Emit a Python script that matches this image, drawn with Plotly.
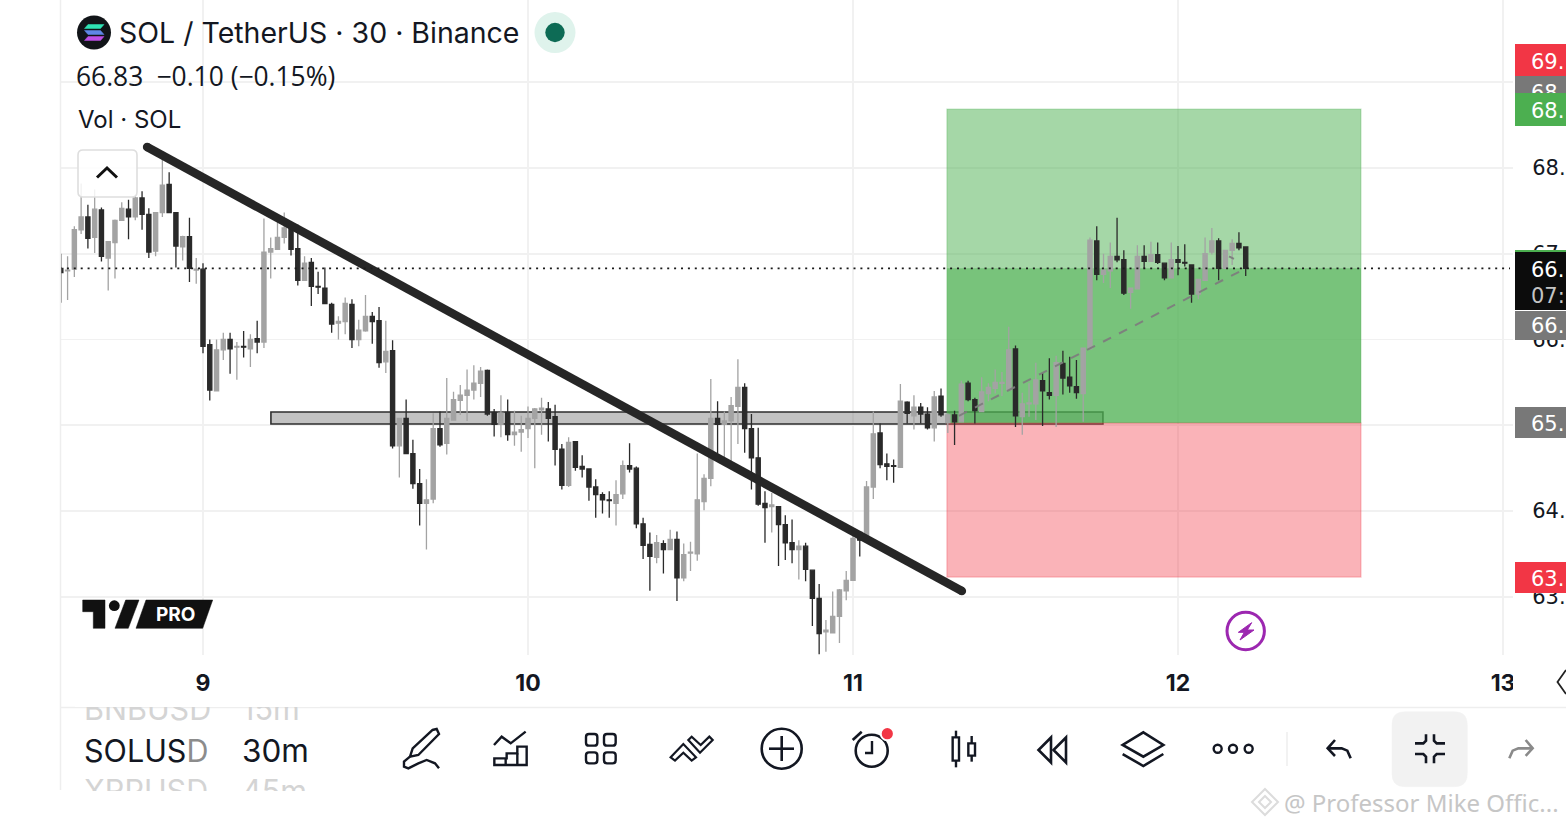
import plotly.graph_objects as go

W, H = 1566, 828

# ---------- data ----------
bar_offsets = list(range(-21, 155))      # 30-minute bars counted from the start of day 9
bars_per_day = 48
opens = [
    66.83,66.80,66.82,67.28,67.43,67.19,67.51,66.95,67.13,67.39,
    67.52,67.43,67.65,67.46,67.03,67.48,67.81,67.48,67.08,67.20,
    66.81,66.82,65.94,65.40,65.88,66.00,65.91,65.92,65.89,66.01,
    65.97,67.02,67.05,67.19,67.30,67.06,66.69,66.90,66.62,66.60,
    66.41,66.19,66.21,66.41,66.00,66.10,66.27,66.22,65.74,65.87,
    64.76,65.08,64.67,64.32,64.09,64.14,64.96,64.79,65.06,65.29,
    65.35,65.41,65.49,65.64,65.15,65.01,65.15,64.89,64.92,64.96,
    65.08,65.18,65.19,65.10,64.72,64.30,64.81,64.52,64.49,64.28,
    64.19,64.13,64.09,64.20,64.53,64.50,63.85,63.61,63.46,63.62,
    63.55,63.67,63.22,63.51,63.50,64.11,64.38,65.08,65.01,65.05,
    65.22,65.44,64.96,64.62,64.09,64.05,64.05,63.84,63.63,63.55,
    63.59,63.31,62.98,62.59,62.58,62.77,63.07,63.19,63.75,63.66,
    64.28,64.91,64.55,64.53,64.51,65.27,65.11,65.21,65.13,64.97,
    65.34,65.03,65.12,65.04,65.49,65.30,65.16,65.37,65.43,65.49,
    65.41,65.89,65.10,65.25,65.25,65.52,65.38,65.35,65.72,65.56,
    65.45,65.37,65.89,67.15,66.76,66.80,66.97,66.93,66.55,66.59,
    66.97,66.91,66.99,66.89,66.72,66.93,66.90,66.87,66.53,66.69,
    67.02,67.15,66.83,67.04,67.12,67.08]
highs = [
    67.00,66.97,67.32,67.82,67.57,67.75,67.54,67.15,67.40,67.60,
    67.63,67.68,67.73,67.53,67.48,68.18,67.95,67.48,67.21,67.42,
    66.95,66.89,66.00,66.00,66.08,66.08,65.97,66.10,66.06,66.22,
    67.41,67.19,67.40,67.48,67.35,67.34,66.97,66.95,66.79,66.84,
    66.43,66.27,66.49,66.47,66.23,66.52,66.32,66.38,66.22,65.99,
    65.08,65.30,64.83,64.49,64.37,65.14,65.16,65.55,65.39,65.47,
    65.65,65.70,65.68,65.65,65.19,65.35,65.30,65.17,65.11,65.22,
    65.20,65.32,65.27,65.24,64.78,64.86,64.81,64.65,64.50,64.37,
    64.22,64.23,64.36,64.59,64.79,64.52,63.92,63.75,63.72,63.66,
    63.78,63.76,63.62,63.64,64.67,64.43,65.54,65.28,65.16,65.33,
    65.77,65.49,65.13,64.97,64.23,64.21,64.05,63.95,63.90,63.66,
    63.63,63.31,63.15,62.73,63.06,63.09,63.30,63.72,63.76,64.35,
    65.16,65.02,64.67,64.60,65.48,65.28,65.35,65.26,65.21,65.40,
    65.43,65.14,65.17,65.52,65.52,65.32,65.56,65.49,65.65,65.62,
    66.15,65.93,65.38,65.49,65.73,65.61,65.78,65.81,65.87,65.80,
    65.76,65.90,67.19,67.32,67.00,67.13,67.42,67.04,66.60,67.10,
    67.10,67.14,67.13,66.89,67.13,67.09,67.11,66.87,66.70,67.19,
    67.30,67.18,67.04,67.17,67.25,67.08]
lows = [
    66.43,66.46,66.73,67.23,67.06,67.01,66.91,66.57,66.71,67.39,
    67.17,67.39,67.28,66.95,66.97,67.43,67.48,66.84,66.92,66.67,
    66.65,65.84,65.29,65.40,65.76,65.60,65.53,65.79,65.68,65.84,
    65.90,66.71,67.05,67.12,66.98,66.63,66.69,66.39,66.53,66.42,
    66.08,66.00,66.06,65.90,65.92,66.09,65.95,65.67,65.61,64.73,
    64.39,64.67,64.26,63.83,63.55,64.09,64.75,64.66,65.06,65.12,
    65.05,65.30,65.33,65.11,64.87,64.86,64.82,64.76,64.69,64.85,
    64.50,64.89,64.81,64.53,64.25,64.28,64.47,64.39,64.12,63.92,
    63.97,63.92,63.83,64.14,64.45,63.80,63.44,63.07,63.39,63.27,
    63.55,62.95,63.18,63.30,63.42,64.01,64.29,64.67,64.60,64.56,
    64.78,64.68,64.25,64.06,63.63,63.75,63.36,63.43,63.39,63.20,
    63.18,62.66,62.33,62.36,62.57,62.46,62.96,63.19,63.47,63.66,
    64.14,64.50,64.36,64.33,64.51,65.02,64.95,65.02,64.95,64.81,
    65.10,64.91,64.77,65.04,65.28,65.02,65.16,65.28,65.37,65.34,
    65.40,64.98,64.89,65.10,65.06,64.99,65.30,64.98,65.36,65.38,
    65.31,65.04,65.89,66.69,66.66,66.60,66.90,66.52,66.36,66.59,
    66.83,66.91,66.88,66.69,66.72,66.75,66.85,66.43,66.47,66.69,
    66.99,66.69,66.83,66.87,67.04,66.74]
closes = [
    66.78,66.81,67.28,67.43,67.18,67.52,66.97,67.14,67.39,67.53,
    67.43,67.65,67.46,67.02,67.48,67.80,67.48,67.09,67.20,66.83,
    66.82,65.92,65.41,65.88,66.00,65.89,65.92,65.91,66.00,65.97,
    67.02,67.06,67.19,67.30,67.05,66.69,66.89,66.62,66.61,66.42,
    66.18,66.21,66.42,66.00,66.11,66.27,66.21,65.73,65.86,64.76,
    65.08,64.67,64.32,64.09,64.13,64.96,64.77,65.08,65.30,65.35,
    65.41,65.49,65.63,65.13,65.01,65.14,64.89,64.92,64.95,65.08,
    65.19,65.20,65.08,64.72,64.30,64.80,64.51,64.49,64.28,64.19,
    64.13,64.12,64.19,64.53,64.49,63.85,63.60,63.47,63.63,63.55,
    63.67,63.22,63.49,63.52,64.13,64.38,65.08,65.01,65.05,65.23,
    65.44,64.96,64.62,64.08,64.04,64.07,63.84,63.63,63.55,63.59,
    63.32,62.98,62.57,62.61,62.77,63.08,63.19,63.68,63.66,64.28,
    64.90,64.54,64.52,64.52,65.28,65.14,65.21,65.13,64.97,65.33,
    65.12,65.12,65.04,65.48,65.30,65.17,65.39,65.44,65.50,65.50,
    65.88,65.11,65.25,65.26,65.53,65.40,65.35,65.73,65.55,65.46,
    65.38,65.90,67.16,66.76,66.81,66.97,66.93,66.54,66.60,66.97,
    66.91,66.99,66.90,66.72,66.93,66.90,66.89,66.53,66.70,67.00,
    67.15,66.83,67.04,67.12,67.07,66.83]

day_ticks = [9, 10, 11, 12, 13]
day_labels = ["9", "10", "11", "12", "13"]
price_ticks = [63, 64, 65, 66, 67, 68, 69]
price_labels = ["63.", "64.", "65.", "66.", "67", "68.", "69."]

last_price = 66.83
trend_days = [8.828, 11.335]
trend_prices = [68.245, 63.067]
zone_days = [9.209, 11.769]
zone_prices = [65.015, 65.155]
position_days = [11.289, 12.563]
target_price, entry_price, stop_price = 68.688, 65.026, 63.23
projection_days = [11.326, 12.188]
projection_prices = [65.11, 66.79]
arrow_days = [12.157, 12.172]
arrow_prices = [66.97, 66.94]

# ---------- page helpers ----------
PLOT_L, PLOT_R, PLOT_B = 60, 1513, 655
LABEL_FONT = "DejaVu Sans"
LABEL_SIZE = 21
def px(v): return v / 325 + 9 - 203 / 325
def py(v): return 64 + (511 - v) / 85.75
def X(v): return v / W
def Y(v): return 1 - v / H

shapes, anns = [], []

def path(points, close=False, color="#131722", width=2.6, fill=None, above=True):
    d = "M" + " L".join(f"{X(a):.5f},{Y(b):.5f}" for a, b in points) + (" Z" if close else "")
    shapes.append(dict(type="path", xref="paper", yref="paper", path=d, layer="above",
                       line=dict(color=color, width=width),
                       fillcolor=fill if fill else "rgba(0,0,0,0)"))

def zpath(ox, oy, pts, **kw):
    path([(ox + a / 3, oy + b / 3) for a, b in pts], **kw)

def circle(cx, cy, r, fill="rgba(0,0,0,0)", color="rgba(0,0,0,0)", width=0):
    shapes.append(dict(type="circle", xref="paper", yref="paper", layer="above",
                       x0=X(cx - r), x1=X(cx + r), y0=Y(cy + r), y1=Y(cy - r),
                       fillcolor=fill, line=dict(color=color, width=width)))

def rrect(x0, y0, x1, y1, r, **kw):
    a, b, c, d = X(x0), X(x1), Y(y0), Y(y1)
    rx, ry = r / W, r / H
    p = (f"M{a+rx},{c} L{b-rx},{c} Q{b},{c} {b},{c-ry} L{b},{d+ry} Q{b},{d} {b-rx},{d} "
         f"L{a+rx},{d} Q{a},{d} {a},{d+ry} L{a},{c-ry} Q{a},{c} {a+rx},{c} Z")
    shapes.append(dict(type="path", xref="paper", yref="paper", layer="above", path=p,
                       fillcolor=kw.get("fill", "rgba(0,0,0,0)"),
                       line=dict(color=kw.get("color", "#131722"), width=kw.get("width", 2.6))))

def text(x, y, s, size=24, color="#131722", anchor="left", weight=400, family="Inter"):
    anns.append(dict(xref="paper", yref="paper", x=X(x), y=Y(y), text=s, showarrow=False,
                     xanchor=anchor, yanchor="middle", borderpad=0,
                     font=dict(size=size, color=color, family=family, weight=weight)))

def box(x0, y0, x1, y1, color):
    anns.append(dict(xref="paper", yref="paper", x=X(x0), y=Y(y0), text="\u00a0", showarrow=False,
                     xanchor="left", yanchor="top", width=x1 - x0, height=y1 - y0,
                     bgcolor=color, borderpad=0, borderwidth=0, font=dict(size=8)))

# ---------- traces ----------
bar_days = [9 + n / bars_per_day for n in bar_offsets]
GRAY, DARK = "#a3a3a3", "#2a2a2a"
fig = go.Figure()
fig.add_trace(go.Candlestick(
    x=bar_days, open=opens, high=highs, low=lows, close=closes, whiskerwidth=0,
    increasing=dict(line=dict(color=GRAY, width=1.3), fillcolor=GRAY),
    decreasing=dict(line=dict(color=DARK, width=1.3), fillcolor=DARK),
    hoverinfo="skip", showlegend=False))
fig.add_trace(go.Scatter(
    x=trend_days, y=trend_prices, mode="lines+markers",
    line=dict(color="#262626", width=8.5), marker=dict(color="#262626", size=8.5),
    hoverinfo="skip", showlegend=False))
fig.add_trace(go.Scatter(
    x=projection_days, y=projection_prices, mode="lines",
    line=dict(color="rgba(125,125,125,0.95)", width=2, dash="9px,9px"),
    hoverinfo="skip", showlegend=False))
fig.add_trace(go.Scatter(
    x=arrow_days, y=arrow_prices, mode="lines",
    line=dict(color="rgba(125,125,125,0.95)", width=2),
    hoverinfo="skip", showlegend=False))
fig.add_trace(go.Scatter(
    x=[px(PLOT_L), px(PLOT_R - 3)], y=[last_price, last_price], mode="lines",
    line=dict(color="#1a1a1a", width=1.6, dash="2px,4.9px"),
    hoverinfo="skip", showlegend=False))

# ---------- support zone and position tool: above the grid, below the candles ----------
shapes.append(dict(type="rect", xref="x", yref="y", layer="between",
                   x0=zone_days[0], x1=zone_days[1], y0=zone_prices[0], y1=zone_prices[1],
                   fillcolor="rgba(110,110,110,0.42)", line=dict(color="#2e2e2e", width=1.6)))
for y0, y1, fill, edge in [
    (entry_price, target_price, "rgba(76,175,80,0.5)", "rgba(76,175,80,0.3)"),
    (entry_price, last_price, "rgba(76,175,80,0.5)", "rgba(0,0,0,0)"),
    (stop_price, entry_price, "rgba(242,54,69,0.38)", "rgba(242,54,69,0.3)"),
]:
    shapes.append(dict(type="rect", xref="x", yref="y", layer="between",
                       x0=position_days[0], x1=position_days[1], y0=y0, y1=y1,
                       fillcolor=fill, line=dict(color=edge, width=1.2)))

# ---------- frame lines ----------
LINE = "#eeeeee"
path([(60.5, 0), (60.5, 790)], color=LINE, width=1.5)
path([(60, 707.5), (W, 707.5)], color=LINE, width=1.5)
path([(1287, 732), (1287, 766)], color=LINE, width=1.5)

# ---------- header ----------
circle(94, 32.5, 17, fill="#111418")
path([(88, 24.5), (104, 24.5), (100.5, 28.5), (84.5, 28.5)], close=True, color="#2fe3b4", width=0.5, fill="#2fe3b4")
path([(84.5, 30.5), (100.5, 30.5), (104, 34.5), (88, 34.5)], close=True, color="#5f86e6", width=0.5, fill="#5f86e6")
path([(88, 36.5), (104, 36.5), (100.5, 40.5), (84.5, 40.5)], close=True, color="#bd4fe6", width=0.5, fill="#bd4fe6")
circle(555, 32.5, 20.5, fill="#dff3ec")
circle(555, 32.5, 9.7, fill="#0d6b55")
text(118, 33, "SOL / TetherUS · 30 · Binance", size=28.5)
text(75, 76, "66.83\u2002−0.10 (−0.15%)", size=26.4, family="Open Sans")
text(77, 119.5, "Vol · SOL", size=24)

rrect(78, 150, 137, 197, 5, fill="rgba(255,255,255,0.85)", color="#dedede", width=1.6)
path([(97, 177.5), (107, 168), (117, 177.5)], width=3, color="#111111")

# ---------- TradingView PRO mark ----------
path([(82.7, 600), (105, 600), (105, 628.3), (93.3, 628.3), (93.3, 611.7), (82.7, 611.7)], close=True, color="#111", width=0.5, fill="#111")
circle(114.3, 605.7, 5.4, fill="#111")
path([(125.7, 600), (139, 600), (128.3, 628.3), (115, 628.3)], close=True, color="#111", width=0.5, fill="#111")
path([(146, 600), (212.7, 600), (202.7, 628.3), (136, 628.3)], close=True, color="#111", width=0.5, fill="#111")
text(175, 614.5, "PRO", size=19, color="#ffffff", anchor="center", weight=700)

# ---------- lightning badge ----------
circle(1245.7, 631, 18.7, color="#9c27b0", width=3)
zpath(1060, 600, [(575, 68), (535, 97), (553, 97), (540, 120), (582, 90), (562, 90)], close=True,
      color="#9c27b0", width=1, fill="#9c27b0")

# ---------- toolbar icons ----------
zpath(60, 590, [(1117, 420), (1130, 417), (1137, 432), (1075, 495), (1050, 500), (1058, 475)], close=True, width=2.4)
zpath(60, 590, [(1050, 500), (1032, 515), (1032, 530), (1045, 535), (1075, 520), (1100, 510), (1125, 520), (1137, 535)], width=2.4)
zpath(60, 590, [(1302, 465), (1325, 440), (1352, 460), (1397, 425)], width=2.4)
zpath(60, 590, [(1303, 525), (1303, 505), (1340, 505), (1340, 490), (1372, 490), (1372, 470), (1400, 470), (1400, 525)], close=True, width=2.4)
path([(60 + 1337 / 3, 590 + 505 / 3), (60 + 1337 / 3, 590 + 525 / 3)], width=2.4)
path([(60 + 1372 / 3, 590 + 490 / 3), (60 + 1372 / 3, 590 + 525 / 3)], width=2.4)

for zx0, zy0, zx1, zy1 in [(78, 102, 112, 137), (132, 102, 167, 137), (78, 157, 112, 190), (132, 157, 167, 190)]:
    rrect(560 + zx0 / 3, 700 + zy0 / 3, 560 + zx1 / 3, 700 + zy1 / 3, 3, width=2.4)
zpath(560, 700, [(332, 172), (370, 132), (408, 172), (395, 182), (370, 158), (345, 182)], close=True, width=2.2)
zpath(560, 700, [(385, 120), (395, 110), (422, 135), (448, 110), (458, 120), (420, 158)], close=True, width=2.2)
circle(781.7, 748.7, 20, color="#131722", width=2.6)
path([(769, 748.7), (794, 748.7)], width=2.6)
path([(781.7, 736), (781.7, 761)], width=2.6)
circle(871.7, 750.7, 16, color="#131722", width=2.6)
path([(872, 741), (872, 753), (865, 753)], width=2.4)
path([(852.7, 740), (861.7, 731.7)], width=2.6)
circle(887.3, 733.7, 7.5, fill="#ffffff")
circle(887.3, 733.7, 5.6, fill="#f23645")
zpath(560, 700, [(1178, 112), (1197, 112), (1197, 182), (1178, 182)], close=True, width=2.4)
zpath(560, 700, [(1188, 92), (1188, 112)], width=2.4)
zpath(560, 700, [(1188, 182), (1188, 202)], width=2.4)
zpath(560, 700, [(1225, 130), (1245, 130), (1245, 167), (1225, 167)], close=True, width=2.4)
zpath(560, 700, [(1235, 108), (1235, 130)], width=2.4)
zpath(560, 700, [(1235, 167), (1235, 185)], width=2.4)
path([(1051, 737.5), (1038.5, 750), (1051, 762.5)], close=True, width=2.6)
path([(1066, 737.5), (1053.5, 750), (1066, 762.5)], close=True, width=2.6)
zpath(1060, 600, [(250, 397), (310, 435), (250, 470), (188, 435)], close=True, width=2.6)
zpath(1060, 600, [(188, 462), (250, 498), (310, 462)], width=2.6)
for zx in (473, 519, 566):
    circle(1060 + zx / 3, 748.7, 4, color="#131722", width=2.4)
zpath(1060, 600, [(825, 420), (803, 445), (825, 468)], width=2.6)
zpath(1060, 600, [(803, 445), (845, 445), (862, 452), (872, 475)], width=2.6)
rrect(1392, 711.7, 1467.3, 786.7, 13, fill="#f2f2f2", color="#f2f2f2", width=0.5)
zpath(1060, 600, [(1065, 430), (1090, 430), (1098, 422), (1098, 403)], width=2.6)
zpath(1060, 600, [(1155, 430), (1130, 430), (1122, 422), (1122, 403)], width=2.6)
zpath(1060, 600, [(1065, 462), (1090, 462), (1098, 470), (1098, 490)], width=2.6)
zpath(1060, 600, [(1155, 462), (1130, 462), (1122, 470), (1122, 490)], width=2.6)
zpath(1060, 600, [(1397, 420), (1418, 445), (1397, 468)], width=2.6, color="#8a8a8a")
zpath(1060, 600, [(1418, 445), (1375, 445), (1358, 452), (1348, 475)], width=2.6, color="#8a8a8a")
path([(1566, 670), (1557.5, 682), (1566, 694)], width=1.8, color="#222222")

# ---------- symbol / interval wheel ----------
text(83, 708, "BNBUSD", size=30.5, color="#d4d4d4")
text(241, 708, "15m", size=30.5, color="#d4d4d4")
text(83, 790, "XRPUSD", size=30.5, color="#d4d4d4")
text(241, 790, "45m", size=30.5, color="#d4d4d4")
box(75, 693, 320, 707, "#ffffff")
box(75, 791, 320, 812, "#ffffff")
text(83, 750, "SOLUS<span style='color:#8c8c8c'>D</span>", size=30.5)
text(241, 750, "30m", size=31.5)

# ---------- covers the right half of the 13 label ----------
box(1513, 668, 1530, 697, "#ffffff")

# ---------- price badges, painted in order so later ones overlap earlier ones ----------
BX0, BX1, TX = 1515, W, 1530
def badge_text(y, s, color="#ffffff"):
    text(TX, y + 1, s, size=LABEL_SIZE, color=color, family=LABEL_FONT)
box(BX0, 44, BX1, 76, "#f23645"); badge_text(60.5, "69.")
box(BX0, 76, BX1, 93, "#787878"); badge_text(92, "68")
box(BX0, 93, BX1, 126, "#4caf50"); badge_text(110, "68.")
box(BX0, 250, BX1, 253, "#4caf50")
box(BX0, 252, BX1, 310, "#0c0c0c"); badge_text(269, "66."); badge_text(295, "07:", "#c4c4c4")
box(BX0, 311, BX1, 340, "#787878"); badge_text(325, "66.")
box(BX0, 407, BX1, 438, "#787878"); badge_text(423, "65.")
box(BX0, 562, BX1, 593, "#f23645"); badge_text(578, "63.")

# ---------- watermark ----------
path([(1265, 789), (1278, 802), (1265, 815), (1252, 802)], close=True, color="#dcdcdc", width=2)
path([(1265, 796), (1271, 802), (1265, 808), (1259, 802)], close=True, color="#dcdcdc", width=2)
text(1283, 802.5, "@ Professor Mike Offic...", size=24, color="#c6c6c6", family="Noto Sans")

GRID = "#f1f1f1"
fig.update_layout(
    width=W, height=H, autosize=False,
    margin=dict(l=0, r=0, t=0, b=0, autoexpand=False),
    paper_bgcolor="#ffffff", plot_bgcolor="#ffffff",
    showlegend=False, dragmode=False, boxgap=0.12,
    shapes=shapes, annotations=anns,
    font=dict(family="Inter", color="#131722"),
    xaxis=dict(domain=[PLOT_L / W, PLOT_R / W], range=[px(PLOT_L), px(PLOT_R)],
               rangeslider=dict(visible=False), tickmode="array",
               tickvals=day_ticks, ticktext=day_labels,
               showgrid=True, gridcolor=GRID, gridwidth=1.6, zeroline=False, showline=False,
               ticks="outside", ticklen=7, tickcolor="rgba(0,0,0,0)",
               tickfont=dict(size=23, family="Inter", color="#131722", weight=700)),
    yaxis=dict(domain=[1 - PLOT_B / H, 1], range=[py(PLOT_B), py(0)], side="right",
               tickmode="array", tickvals=price_ticks, ticktext=price_labels,
               showgrid=True, gridcolor=GRID, gridwidth=1.6, zeroline=False, showline=False,
               ticks="outside", ticklen=14, tickcolor="rgba(0,0,0,0)",
               tickfont=dict(size=LABEL_SIZE, family=LABEL_FONT, color="#131722")),
)

fig.write_html("out.html", config=dict(displayModeBar=False, staticPlot=True),
               post_script="document.documentElement.style.overflow='hidden';document.body.style.margin='0';document.body.style.overflow='hidden';")
